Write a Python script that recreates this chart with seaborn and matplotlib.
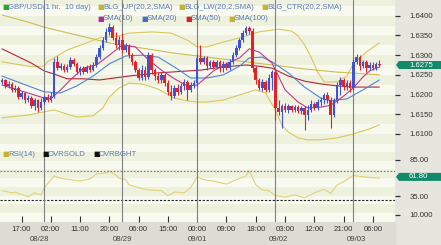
import numpy as np
import pandas as pd
import matplotlib
matplotlib.use("Agg")
import matplotlib.pyplot as plt
import matplotlib.transforms as mtrans
from matplotlib.patches import Polygon
import seaborn as sns

# ---------------- data ----------------
bar_start = -13  # bar index, 0 = 08/28 00:00 (hourly bars, weekend removed)
opens = [1.6232,1.6237,1.6222,1.6227,1.6212,1.6217,1.6194,1.6204,1.6186,1.6191,1.6171,1.6186,1.6166,
         1.6181,1.6194,1.6186,1.6196,1.6283,1.6267,1.6272,1.6262,1.6270,1.6288,1.6278,1.6257,1.6267,1.6257,
         1.6270,1.6262,1.6275,1.6295,1.6318,1.6338,1.6359,1.6371,1.6344,1.6326,1.6338,1.6313,1.6323,1.6300,
         1.6283,1.6262,1.6242,1.6262,1.6245,1.6300,1.6262,1.6247,1.6237,1.6250,1.6229,1.6207,1.6196,1.6217,
         1.6207,1.6222,1.6232,1.6212,1.6224,1.6229,1.6293,1.6283,1.6293,1.6272,1.6283,1.6270,1.6283,1.6267,
         1.6278,1.6267,1.6283,1.6300,1.6318,1.6338,1.6356,1.6369,1.6361,1.6267,1.6237,1.6217,1.6232,1.6212,
         1.6242,1.6257,1.6166,1.6156,1.6171,1.6161,1.6171,1.6161,1.6168,1.6158,1.6166,1.6148,1.6161,1.6176,
         1.6166,1.6181,1.6186,1.6199,1.6186,1.6148,1.6186,1.6224,1.6237,1.6222,1.6229,1.6217,1.6283,1.6295,
         1.6272,1.6283,1.6267,1.6275,1.6267,1.6278]
highs = [1.6242,1.6240,1.6234,1.6232,1.6224,1.6222,1.6209,1.6207,1.6199,1.6196,1.6191,1.6189,1.6191,
         1.6199,1.6201,1.6207,1.6293,1.6298,1.6280,1.6278,1.6278,1.6295,1.6293,1.6283,1.6272,1.6272,1.6275,
         1.6278,1.6283,1.6303,1.6326,1.6346,1.6369,1.6382,1.6377,1.6359,1.6349,1.6356,1.6331,1.6328,1.6305,
         1.6288,1.6267,1.6275,1.6272,1.6308,1.6305,1.6267,1.6257,1.6257,1.6255,1.6237,1.6224,1.6224,1.6227,
         1.6229,1.6240,1.6237,1.6232,1.6237,1.6303,1.6326,1.6298,1.6298,1.6288,1.6288,1.6288,1.6288,1.6285,
         1.6283,1.6290,1.6308,1.6326,1.6344,1.6364,1.6374,1.6374,1.6369,1.6272,1.6242,1.6240,1.6237,1.6252,
         1.6262,1.6267,1.6186,1.6176,1.6179,1.6176,1.6173,1.6173,1.6173,1.6171,1.6171,1.6173,1.6186,1.6181,
         1.6189,1.6194,1.6204,1.6207,1.6194,1.6191,1.6232,1.6245,1.6242,1.6237,1.6237,1.6293,1.6303,1.6300,
         1.6288,1.6288,1.6283,1.6283,1.6283,1.6288]
lows = [1.6227,1.6217,1.6217,1.6207,1.6207,1.6189,1.6189,1.6179,1.6181,1.6166,1.6161,1.6156,1.6161,
        1.6176,1.6181,1.6181,1.6191,1.6262,1.6262,1.6257,1.6257,1.6265,1.6272,1.6252,1.6250,1.6252,1.6255,
        1.6257,1.6260,1.6270,1.6290,1.6313,1.6333,1.6351,1.6338,1.6318,1.6313,1.6305,1.6308,1.6293,1.6275,
        1.6257,1.6237,1.6237,1.6237,1.6240,1.6252,1.6237,1.6229,1.6229,1.6222,1.6199,1.6186,1.6191,1.6199,
        1.6201,1.6212,1.6186,1.6207,1.6217,1.6222,1.6278,1.6278,1.6262,1.6267,1.6265,1.6267,1.6257,1.6257,
        1.6262,1.6262,1.6278,1.6295,1.6313,1.6333,1.6351,1.6354,1.6257,1.6227,1.6212,1.6209,1.6207,1.6207,
        1.6212,1.6135,1.6148,1.6115,1.6156,1.6153,1.6156,1.6156,1.6153,1.6151,1.6110,1.6135,1.6156,1.6161,
        1.6161,1.6171,1.6176,1.6179,1.6115,1.6143,1.6179,1.6199,1.6212,1.6212,1.6207,1.6212,1.6278,1.6262,
        1.6267,1.6257,1.6262,1.6262,1.6262,1.6270]
closes = [1.6237,1.6222,1.6227,1.6212,1.6217,1.6194,1.6204,1.6186,1.6191,1.6171,1.6186,1.6166,1.6181,
          1.6194,1.6186,1.6196,1.6283,1.6267,1.6272,1.6262,1.6270,1.6288,1.6278,1.6257,1.6267,1.6257,1.6270,
          1.6262,1.6275,1.6295,1.6318,1.6338,1.6359,1.6371,1.6344,1.6326,1.6338,1.6313,1.6323,1.6300,1.6283,
          1.6262,1.6242,1.6262,1.6245,1.6300,1.6262,1.6247,1.6237,1.6250,1.6229,1.6207,1.6196,1.6217,1.6207,
          1.6222,1.6232,1.6212,1.6224,1.6229,1.6293,1.6283,1.6293,1.6272,1.6283,1.6270,1.6283,1.6267,1.6278,
          1.6267,1.6283,1.6300,1.6318,1.6338,1.6356,1.6369,1.6361,1.6267,1.6237,1.6217,1.6232,1.6212,1.6242,
          1.6257,1.6166,1.6156,1.6171,1.6161,1.6171,1.6161,1.6168,1.6158,1.6166,1.6148,1.6161,1.6176,1.6166,
          1.6181,1.6186,1.6199,1.6186,1.6148,1.6186,1.6224,1.6237,1.6222,1.6229,1.6217,1.6283,1.6295,1.6272,
          1.6283,1.6267,1.6275,1.6267,1.6278,1.6275]

sma10_x = [-13,-5,0,2,5,8,12,16,20,24,28,32,36,40,44,47,52,56,60,63,66,70,74,78,81,85,88,90,92,95,98,100,103]
sma10_y = [1.6224,1.6204,1.6191,1.6189,1.6212,1.6237,1.6267,1.6275,1.6300,1.6326,1.6321,1.6288,1.6262,
           1.6240,1.6222,1.6224,1.6260,1.6278,1.6293,1.6316,1.6308,1.6280,1.6212,1.6181,1.6166,1.6168,
           1.6173,1.6184,1.6196,1.6217,1.6245,1.6260,1.6270]
sma20_x = [-13,-5,0,5,10,15,20,25,30,35,40,45,50,55,60,63,67,70,75,80,85,88,93,98,103]
sma20_y = [1.6247,1.6222,1.6207,1.6204,1.6222,1.6247,1.6278,1.6298,1.6300,1.6295,1.6270,1.6242,1.6242,
           1.6250,1.6272,1.6293,1.6295,1.6283,1.6255,1.6219,1.6191,1.6184,1.6189,1.6212,1.6237]
sma50_x = [-13,-4,0,3,7,12,17,26,35,48,55,62,66,70,75,80,85,90,95,103]
sma50_y = [1.6316,1.6280,1.6260,1.6252,1.6240,1.6240,1.6237,1.6247,1.6255,1.6262,1.6270,1.6275,1.6272,
           1.6267,1.6247,1.6234,1.6227,1.6222,1.6219,1.6219]
sma100_x = [-13,-5,0,5,10,15,20,30,40,50,60,70,80,90,103]
sma100_y = [1.6402,1.6384,1.6371,1.6361,1.6351,1.6341,1.6331,1.6318,1.6305,1.6295,1.6285,1.6275,1.6265,
            1.6257,1.6250]
bb_up_x = [-13,-5,0,1,4,7,13,17,23,26,33,39,44,47,50,54,61,66,72,76,78,80,82,84,86,90,93,95,99,103]
bb_up_y = [1.6283,1.6272,1.6272,1.6283,1.6298,1.6313,1.6331,1.6344,1.6349,1.6356,1.6359,1.6356,1.6338,
           1.6321,1.6321,1.6331,1.6346,1.6359,1.6366,1.6361,1.6349,1.6326,1.6295,1.6257,1.6232,1.6232,
           1.6247,1.6278,1.6308,1.6331]
bb_lw_x = [-13,-5,0,3,6,10,15,18,20,23,26,30,35,40,44,47,50,55,60,65,68,71,73,75,78,81,85,90,95,100,103]
bb_lw_y = [1.6141,1.6148,1.6156,1.6161,1.6153,1.6143,1.6146,1.6166,1.6194,1.6217,1.6229,1.6227,1.6214,
           1.6191,1.6184,1.6181,1.6181,1.6186,1.6199,1.6212,1.6204,1.6161,1.6123,1.6105,1.6090,1.6085,
           1.6085,1.6090,1.6100,1.6113,1.6123]

rsi_x = [-13,-10,-9,-5,-3,-1,0,3,5,8,11,14,16,19,20,22,23,25,26,29,32,36,38,40,43,45,47,49,52,56,59,
         62,63,65,67,69,71,74,77,80,83,86,88,90,92,95,96,100,103]
rsi_y = [43,40,41,34.5,40,37,47,63,60,58,56,59,66,67,70,64.5,60,58,51,47,44,43,36,41,40,47,62,58,56,52,
         58,63,70,51,44,43,36,34,37,33,40,45,39,51,55,64,63,61,60]

time_ticks = [-7, 2, 11, 20, 29, 38, 47, 56, 65, 74, 83, 92, 101]
time_labels = ["17:00", "02:00", "11:00", "20:00", "06:00", "15:00", "00:00",
               "09:00", "18:00", "03:00", "12:00", "21:00", "06:00"]
day_breaks = [0, 24, 47, 71, 95]
date_pos = [-1.5, 24, 47, 72, 96]
date_labels = ["08/28", "08/29", "09/01", "09/02", "09/03"]
price_ticks = [1.6400, 1.6350, 1.6300, 1.6250, 1.6200, 1.6150, 1.6100]
rsi_ticks = [85, 35, 10]
rsi_tick_labels = ["85.00", "35.00", "10.000"]
last_price = 1.6275
last_rsi = 61.80
overbought = 70
oversold = 30

# ---------------- style ----------------
UP, DOWN = "#3d52d5", "#e0232a"
C_SMA10, C_SMA20, C_SMA50, C_SMA100 = "#c0388f", "#4f86d6", "#b3243a", "#cdbd52"
C_BAND = "#d9c85e"
TXT = "#5b7bb5"
GREEN = "#0f8a6a"

sns.set_theme(style="white")
plt.rcParams['font.family'] = ['Liberation Sans', 'DejaVu Sans']

W, H = 441, 245
fig = plt.figure(figsize=(W / 100, H / 100), dpi=100, facecolor="#e6e6de")

def rect(x0, y0, x1, y1):
    return [x0 / W, 1 - y1 / H, (x1 - x0) / W, (y1 - y0) / H]

# bottom strip (behind everything)
fig.patches.append(plt.Rectangle((0, 0), 395 / W, 1 - 222 / H, transform=fig.transFigure,
                                 color="#dcdcd3", zorder=-5))

ax = fig.add_axes(rect(0, 0, 395, 149))
ax2 = fig.add_axes(rect(0, 149, 395, 222))

xmin, xmax = -13.62, 107.8
pmin, pmax = 1.60618, 1.6440

for a in (ax, ax2):
    a.set_facecolor("#f7f8ec")
    for s in a.spines.values():
        s.set_visible(False)

# stripes
lv = 1.6050
k = 0
while lv < 1.6450:
    ax.axhspan(lv, lv + 0.0025, color="#eef1de" if k % 2 else "#f8f9ef", lw=0, zorder=0)
    lv += 0.0025
    k += 1
for k, lv in enumerate(range(0, 100, 12)):
    ax2.axhspan(lv, lv + 12, color="#eef1de" if k % 2 else "#f8f9ef", lw=0, zorder=0)

# bands & MAs
def line(a, xs, ys, color, lw=0.8, z=2):
    df = pd.DataFrame({"x": xs, "y": ys})
    sns.lineplot(data=df, x="x", y="y", ax=a, color=color, lw=lw, zorder=z, legend=False)

line(ax, bb_up_x, bb_up_y, C_BAND)
line(ax, bb_lw_x, bb_lw_y, C_BAND)
line(ax, sma100_x, sma100_y, C_SMA100)
line(ax, sma50_x, sma50_y, C_SMA50)
line(ax, sma20_x, sma20_y, C_SMA20)
line(ax, sma10_x, sma10_y, C_SMA10)

# candles
idx = np.arange(bar_start, bar_start + len(closes))
o, h, l, c = map(np.array, (opens, highs, lows, closes))
cols = np.where(c >= o, UP, DOWN)
ax.vlines(idx, l, h, colors=cols, lw=0.8, zorder=4)
body = np.where(np.abs(c - o) < 0.00008, 0.00008, c - o)
ax.bar(idx, body, bottom=o, width=0.78, color=cols, lw=0, zorder=5)

for d in day_breaks:
    ax.axvline(d, color="#808080", lw=0.8, zorder=3)
    ax2.axvline(d, color="#808080", lw=0.8, zorder=3)

ax.set_xlim(xmin, xmax)
ax.set_ylim(pmin, pmax)
ax.set_xlabel("")
ax.set_ylabel("")
ax.set_xticks([])
ax.yaxis.tick_right()
ax.set_yticks(price_ticks)
ax.set_yticklabels([f"{v:.4f}" for v in price_ticks])
ax.tick_params(axis="y", right=True, length=3.5, width=0.9, color="#333333", pad=7,
               labelsize=5.6, labelcolor="#333333")

# RSI
line(ax2, rsi_x, rsi_y, "#e2d27a", lw=0.8)
ax2.axhline(overbought, color="#777777", lw=0.8, ls=(0, (1.5, 1.5)), zorder=2)
ax2.axhline(oversold, color="#222222", lw=0.8, ls=(0, (2, 1.5)), zorder=2)
ax2.set_ylim(0, 100)
ax2.set_xlim(xmin, xmax)
ax2.set_xlabel("")
ax2.set_ylabel("")
ax2.yaxis.tick_right()
ax2.set_yticks(rsi_ticks)
ax2.set_yticklabels(rsi_tick_labels)
ax2.tick_params(axis="y", right=True, length=3.5, width=0.9, color="#333333", pad=7,
                labelsize=5.6, labelcolor="#333333")
ax2.set_xticks(time_ticks)
ax2.set_xticklabels(time_labels)
ax2.tick_params(axis="x", bottom=True, labelbottom=True, direction="in", length=4, width=0.8,
                color="#333333", pad=3, labelsize=5.6, labelcolor="#333333")
for p, lab in zip(date_pos, date_labels):
    ax2.text(p, -0.245, lab, transform=mtrans.blended_transform_factory(ax2.transData, ax2.transAxes),
             ha="center", va="center", fontsize=5.6, color="#444444", clip_on=False)

# value boxes (current values)
def value_box(a, v, s):
    yf = fig.transFigure.inverted().transform(a.transData.transform((0, v)))[1]
    hb = 8 / H
    x0 = 396 / W
    poly = Polygon([[x0, yf], [x0 + 3 / W, yf + hb / 2], [1, yf + hb / 2],
                    [1, yf - hb / 2], [x0 + 3 / W, yf - hb / 2]],
                   closed=True, transform=fig.transFigure, fc=GREEN, ec="none", zorder=5)
    fig.patches.append(poly)
    fig.text(409 / W, yf, s, color="white", fontsize=5.6, va="center", ha="left", zorder=6)

value_box(ax, last_price, f"{last_price:.4f}")
value_box(ax2, last_rsi, f"{last_rsi:.2f}")

# legends
def legend_item(x, y, color, label):
    fig.text(x / W, 1 - y / H, "\u25a0", color=color, fontsize=5, va="center", ha="left",
             family=["DejaVu Sans"])
    fig.text((x + 6) / W, 1 - y / H, label, color=TXT, fontsize=5.6, va="center", ha="left")

legend_item(2, 7.5, "#2fa52f", "GBP/USD(1 hr.  10 day)")
legend_item(97, 7.5, "#c8b42a", "BLG_UP(20,2,SMA)")
legend_item(178, 7.5, "#c8b42a", "BLG_LW(20,2,SMA)")
legend_item(261, 7.5, "#c8b42a", "BLG_CTR(20,2,SMA)")
legend_item(97, 19, "#b02aa8", "SMA(10)")
legend_item(141, 19, "#3d6fd0", "SMA(20)")
legend_item(185, 19, "#d8202a", "SMA(50)")
legend_item(228, 19, "#c8b42a", "SMA(100)")
legend_item(2, 154, "#c8b42a", "RSI(14)")
legend_item(42, 154, "#111111", "OVRSOLD")
legend_item(93, 154, "#111111", "OVRBGHT")

fig.savefig("out.png", dpi=100, facecolor=fig.get_facecolor())
